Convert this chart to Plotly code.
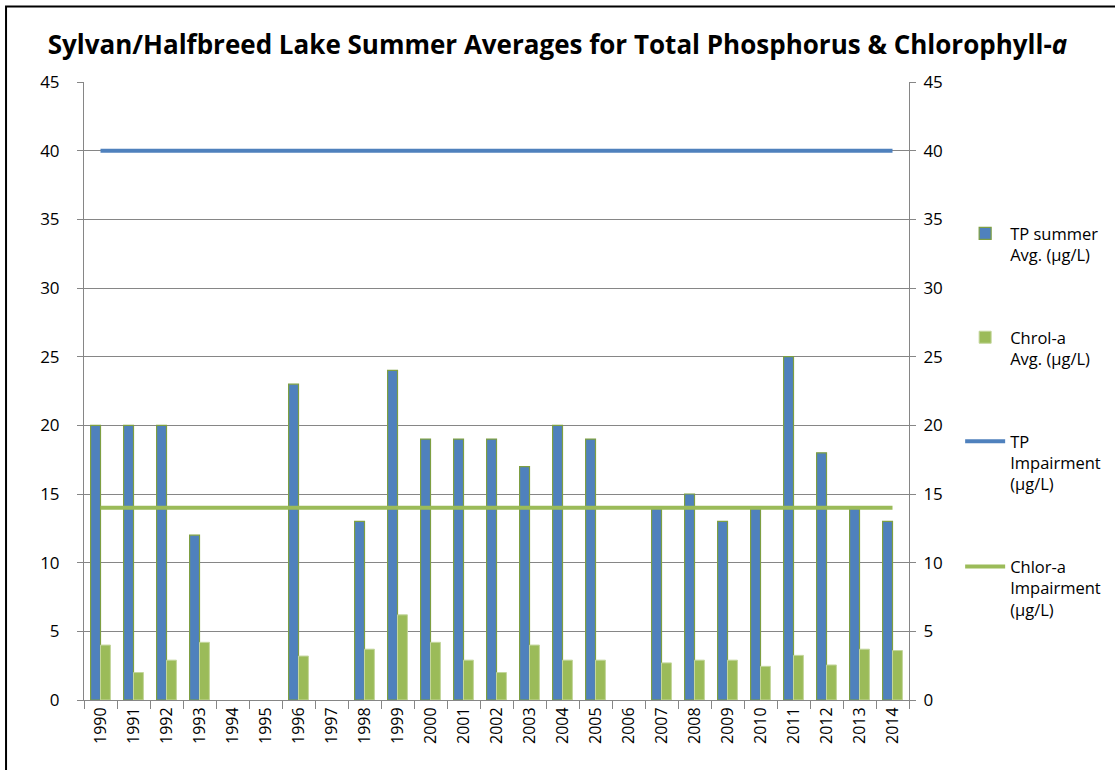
import plotly.graph_objects as go

years = [str(y) for y in range(1990, 2015)]
tp_avg = [20, 20, 20, 12, None, None, 23, None, 13, 24, 19, 19, 19, 17, 20, 19, None, 14, 15, 13, 14, 25, 18, 14, 13]
chla_avg = [4.0, 2.0, 2.9, 4.2, None, None, 3.2, None, 3.7, 6.2, 4.2, 2.9, 2.0, 4.0, 2.9, 2.9, None, 2.7, 2.9, 2.9, 2.45, 3.25, 2.55, 3.7, 3.6]
tp_impair = [40] * len(years)
chla_impair = [14] * len(years)
y_ticks = [0, 5, 10, 15, 20, 25, 30, 35, 40, 45]

BLUE = "#4F81BD"
GREEN = "#9BBB59"
GRID = "#868686"
FONT = "Open Sans, Liberation Sans, sans-serif"

fig = go.Figure()
fig.add_trace(go.Bar(x=years, y=tp_avg, name="TP summer<br>Avg. (µg/L)",
                     marker=dict(color=BLUE, line=dict(color="#7E9F42", width=1.2)),
                     legendgroup="a"))
fig.add_trace(go.Bar(x=years, y=chla_avg, name="Chrol-a<br>Avg. (µg/L)",
                     marker=dict(color=GREEN, line=dict(color="#C3D69B", width=1)),
                     legendgroup="b"))
fig.add_trace(go.Scatter(x=years, y=tp_impair, name="TP<br>Impairment<br>(µg/L)", mode="lines",
                         line=dict(color=BLUE, width=4), legendgroup="c", yaxis="y2"))
fig.add_trace(go.Scatter(x=years, y=chla_impair, name="Chlor-a<br>Impairment<br>(µg/L)", mode="lines",
                         line=dict(color=GREEN, width=4), legendgroup="d", yaxis="y2"))

fig.update_layout(
    width=1115, height=770,
    margin=dict(l=84, r=206, t=82, b=70, autoexpand=False),
    paper_bgcolor="white", plot_bgcolor="white",
    font=dict(family=FONT, size=17, color="black"),
    title=dict(text="<b>Sylvan/Halfbreed Lake Summer Averages for Total Phosphorus &amp; Chlorophyll-<i>a</i></b>",
               x=0.5, xanchor="center", y=0.9416, yanchor="middle",
               font=dict(family=FONT, size=26, color="black")),
    barmode="group", bargap=0.4, bargroupgap=0,
    xaxis=dict(type="category", categoryorder="array", categoryarray=years,
               range=[-0.5, 24.5], tickangle=-90, ticks="outside", tickson="boundaries",
               ticklen=8, tickcolor=GRID, showline=True, linecolor=GRID, linewidth=1,
               showgrid=False, tickfont=dict(size=16), automargin=False),
    yaxis=dict(range=[0, 45], tickvals=y_ticks, showgrid=True, gridcolor=GRID, gridwidth=1,
               showline=True, linecolor=GRID, ticks="outside", ticklen=6, tickcolor=GRID,
               zeroline=False, tickfont=dict(size=17), ticklabelstandoff=14, automargin=False),
    yaxis2=dict(range=[0, 45], tickvals=y_ticks, overlaying="y", side="right", showgrid=False,
                showline=True, linecolor=GRID, ticks="outside", ticklen=6, tickcolor=GRID,
                zeroline=False, tickfont=dict(size=17), ticklabelstandoff=4, automargin=False),
    legend=dict(x=1.062, xanchor="left", y=0.783, yanchor="top", valign="top",
                tracegroupgap=58, font=dict(size=16.5), itemwidth=40,
                bgcolor="rgba(0,0,0,0)"),
    showlegend=True,
)

fig.add_shape(type="rect", xref="paper", yref="paper", x0=-0.0945, x1=1.4, y0=-0.2, y1=1.122,
              line=dict(color="black", width=2), fillcolor="rgba(0,0,0,0)", layer="above")

fig.write_html("out.html", post_script="document.body.style.margin='0';",
               config={"displayModeBar": False})
